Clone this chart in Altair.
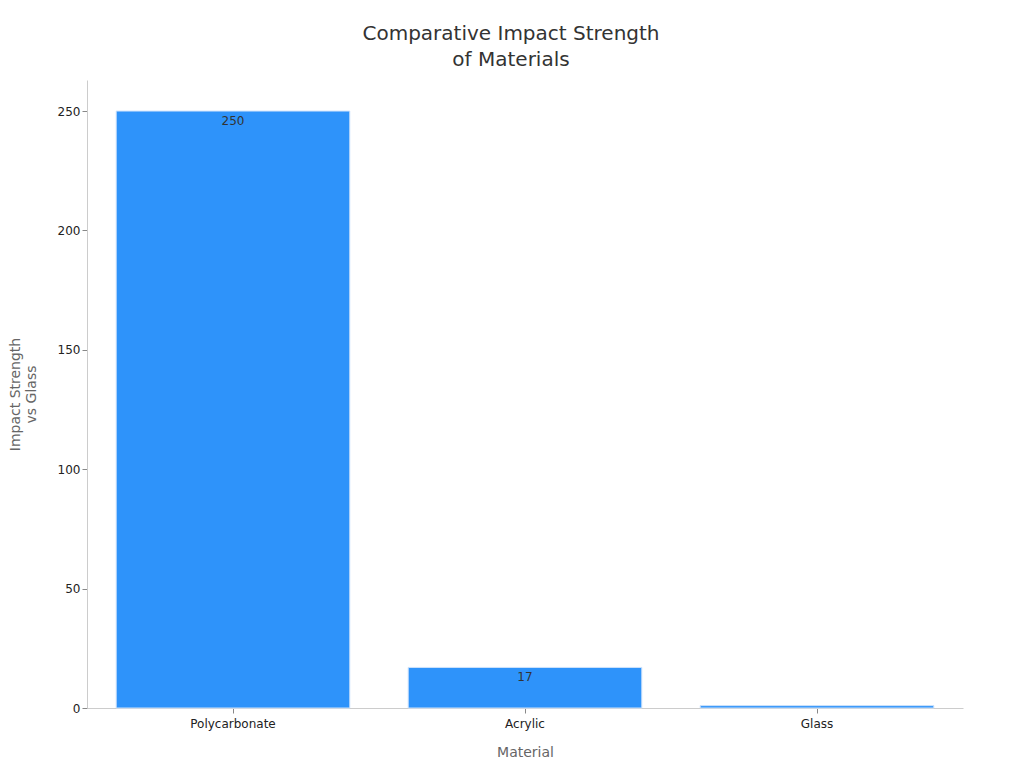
import altair as alt
import pandas as pd

materials = ["Polycarbonate", "Acrylic", "Glass"]
strength = [250, 17, 1]

data = pd.DataFrame({"Material": materials, "Strength": strength})

base = alt.Chart(data).encode(
    x=alt.X("Material:N", sort=materials, title="Material",
            scale=alt.Scale(paddingInner=0.2, paddingOuter=0.1),
            axis=alt.Axis(labelAngle=0, labelPadding=5, titlePadding=16)),
    y=alt.Y("Strength:Q", title=["Impact Strength", "vs Glass"],
            scale=alt.Scale(domain=[0, 263], nice=False),
            axis=alt.Axis(values=[0, 50, 100, 150, 200, 250], titlePadding=19)),
)

bars = base.mark_bar(color="#2E93FA", stroke="#cfe3fb", strokeWidth=1)

# value labels sit just inside the top of each bar, clipped to the plot area
labels = base.mark_text(baseline="middle", dy=10, fontSize=12, color="#333333",
                        clip=True).encode(
    text=alt.Text("Strength:Q")
)

chart = alt.layer(bars, labels).properties(
    width=876,
    height=628,
    padding={"top": 16, "left": 0, "right": 5, "bottom": 5},
    title=alt.Title(["Comparative Impact Strength", "of Materials"],
                    fontSize=20, fontWeight="normal", color="#333333",
                    lineHeight=26, offset=10, dx=-14),
).configure(
    font="DejaVu Sans",
).configure_view(
    stroke=None,
).configure_axis(
    grid=False,
    domainColor="#cccccc",
    tickColor="#888888",
    labelColor="#222222",
    labelFontSize=12,
    titleColor="#666666",
    titleFontSize=14,
    titleFontWeight="normal",
)

chart.save("out.html", embed_options={"renderer": "svg", "actions": False})
